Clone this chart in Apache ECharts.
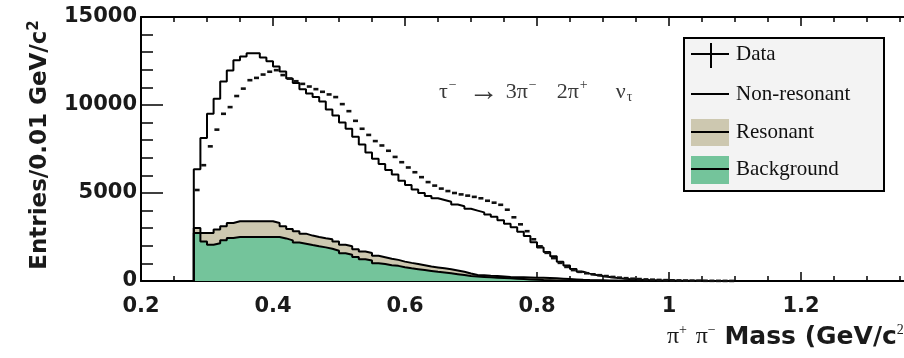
<!DOCTYPE html>
<html><head><meta charset="utf-8">
<script src="https://cdn.jsdelivr.net/npm/echarts@6/dist/echarts.min.js"></script>
<style>html,body{margin:0;padding:0;background:#fff}#c{width:904px;height:358px}</style>
</head><body><div id="c"></div>
<script>
// Bin lower edges (GeV/c^2), bin width 0.01
const binLow = [0.28,0.29,0.30,0.31,0.32,0.33,0.34,0.35,0.36,0.37,
  0.38,0.39,0.40,0.41,0.42,0.43,0.44,0.45,0.46,0.47,
  0.48,0.49,0.50,0.51,0.52,0.53,0.54,0.55,0.56,0.57,
  0.58,0.59,0.60,0.61,0.62,0.63,0.64,0.65,0.66,0.67,
  0.68,0.69,0.70,0.71,0.72,0.73,0.74,0.75,0.76,0.77,
  0.78,0.79,0.80,0.81,0.82,0.83,0.84,0.85,0.86,0.87,
  0.88,0.89,0.90,0.91,0.92,0.93,0.94,0.95,0.96,0.97,
  0.98,0.99,1.00,1.01,1.02,1.03,1.04,1.05,1.06,1.07,1.08,1.09];
const binWidth = 0.01;

// Data points (entries per bin)
const dataCounts = [5170,6580,7650,8600,9500,9880,10510,10930,11410,11540,
  11730,11890,11980,11700,11500,11350,11200,11050,10900,10750,
  10600,10450,10050,9650,9100,8650,8300,7950,7700,7400,
  7050,6750,6450,6180,5900,5620,5420,5250,5110,5000,
  4920,4850,4780,4700,4560,4450,4330,4050,3620,3220,
  2830,2370,1970,1600,1300,1030,800,620,520,440,
  380,330,280,230,190,160,130,110,90,75,
  60,50,40,32,26,20,16,12,10,8,6,5];

// Stacked histogram heights: total (non-resonant line), background+resonant, background
const nonResonantTotal = [6350,8130,9500,10360,11330,11960,12540,12760,12940,12940,
  12700,12480,12190,11900,11500,11250,10900,10650,10450,10200,
  9750,9400,9000,8650,8200,7750,7300,6950,6650,6300,
  6050,5700,5450,5200,5000,4830,4700,4600,4500,4350,
  4250,4100,4000,3900,3780,3650,3450,3250,3050,2800,
  2550,2200,1900,1650,1400,1100,880,680,530,420,
  340,280,230,180,140,110,90,70,55,45,
  35,28,22,18,14,11,9,7,5,4,3,2];
const resonantTop = [3010,2730,2730,2920,3110,3300,3400,3400,3400,3400,
  3400,3400,3300,3110,2960,2820,2690,2580,2500,2430,
  2370,2250,2060,1970,1810,1680,1590,1430,1350,1270,
  1200,1100,1030,970,900,820,770,720,670,600,
  530,430,340,320,300,290,260,230,220,210,
  200,190,180,170,150,130,110,90,70,55,
  45,38,30,25,20,16,12,10,8,6,
  5,4,3,3,2,2,1,1,1,1,1,1];
const background = [2730,2250,2060,2150,2310,2440,2500,2500,2500,2500,
  2500,2500,2500,2420,2310,2190,2120,2040,1970,1910,
  1830,1720,1580,1490,1360,1240,1160,1010,960,900,
  860,780,720,670,620,570,520,480,440,390,
  340,280,250,230,210,190,170,150,130,110,
  90,70,50,40,30,25,20,16,12,10,
  8,6,5,4,3,3,2,2,1,1,
  1,1,1,1,1,1,1,1,1,1,1,1];

const legendNames = ['Data','Non-resonant','Resonant','Background'];
const colTan = '#cdc8b0', colGreen = '#74c49b';

function stepPoints(vals){
  const pts = [[binLow[0], 0]];
  for (let i = 0; i < vals.length; i++) pts.push([binLow[i], vals[i]]);
  pts.push([binLow[vals.length-1] + binWidth, vals[vals.length-1]]);
  return pts;
}

const sansB = 'DejaVu Sans';
const serif = 'Liberation Serif';
const chart = echarts.init(document.getElementById('c'));
const axisX = (pos, showLabel) => ({
  type:'value', min:0.2, max:1.4, interval:0.2, position:pos,
  axisLine:{show:true, onZero:false, lineStyle:{color:'#000', width:2}},
  axisTick:{show:true, inside:true, length:9, lineStyle:{color:'#000', width:1.5}},
  minorTick:{show:true, splitNumber:4, length:5, lineStyle:{color:'#000', width:1.5}},
  splitLine:{show:false},
  axisLabel:{show:showLabel, fontFamily:sansB, fontWeight:'bold', fontSize:21, color:'#1a1a1a', margin:15,
             formatter:(v)=>String(+v.toFixed(2))}
});
const tc = '#3a3a3a';
chart.setOption({
  animation:false,
  backgroundColor:'#fff',
  grid:{left:141, top:17, width:792, height:264, containLabel:false, outerBoundsMode:'none'},
  title:{
    left:434, top:72,
    text:'{t|τ}{s|−}{a|→}{p|3π}{s|−}{q|2π}{s|+}{n|ν}{b|τ}',
    textStyle:{fontWeight:'normal', rich:{
      t:{fontFamily:serif, fontSize:22, fontWeight:'normal', color:tc},
      a:{fontFamily:serif, fontSize:30, fontWeight:'normal', color:tc, padding:[0,7,0,12]},
      p:{fontFamily:serif, fontSize:22, fontWeight:'normal', color:tc},
      q:{fontFamily:serif, fontSize:22, fontWeight:'normal', color:tc, padding:[0,0,0,20]},
      n:{fontFamily:serif, fontSize:22, fontWeight:'normal', color:tc, padding:[0,0,0,28]},
      s:{fontFamily:serif, fontSize:14, fontWeight:'normal', color:tc, padding:[0,0,13,1]},
      b:{fontFamily:serif, fontSize:14, fontWeight:'normal', color:tc, padding:[11,0,0,1]}
    }}
  },
  xAxis:[axisX('bottom', true), axisX('top', false)],
  yAxis:{
    type:'value', min:0, max:15000, interval:5000,
    axisLine:{show:true, lineStyle:{color:'#000', width:2}},
    axisTick:{show:true, inside:true, length:22, lineStyle:{color:'#000', width:1.5}},
    minorTick:{show:true, splitNumber:5, length:12, lineStyle:{color:'#000', width:1.5}},
    splitLine:{show:false},
    axisLabel:{fontFamily:sansB, fontWeight:'bold', fontSize:21, color:'#1a1a1a', margin:4,
               formatter:(v)=>String(v)}
  },
  series:[
    {name:'Resonant', type:'line', step:'end', showSymbol:false, z:2,
     data:stepPoints(resonantTop),
     lineStyle:{color:'#000', width:2}, areaStyle:{color:colTan, opacity:1}},
    {name:'Background', type:'line', step:'end', showSymbol:false, z:3,
     data:stepPoints(background),
     lineStyle:{color:'#000', width:2}, areaStyle:{color:colGreen, opacity:1}},
    {name:'Non-resonant', type:'line', step:'end', showSymbol:false, z:4,
     data:stepPoints(nonResonantTotal),
     lineStyle:{color:'#000', width:2}},
    {name:'Data', type:'custom', z:5,
     data:binLow.map((x,i)=>[x, dataCounts[i]]),
     renderItem:function(params, api){
       const x0 = api.value(0), v = api.value(1);
       const p1 = api.coord([x0, v]), p2 = api.coord([x0 + binWidth, v]);
       return {type:'line', shape:{x1:p1[0]+0.8, y1:p1[1], x2:p2[0]-0.8, y2:p2[1]},
               style:{stroke:'#111', lineWidth:2.6}};
     }}
  ],
  graphic:[
    {type:'text', x:40, y:145, rotation:Math.PI/2,
     style:{text:'Entries/0.01 GeV/c{s|2}', fontFamily:sansB, fontWeight:'bold', fontSize:23, fill:'#1a1a1a',
            align:'center', verticalAlign:'middle',
            rich:{s:{fontFamily:sansB, fontWeight:'bold', fontSize:15, fill:'#1a1a1a', padding:[0,0,11,0]}}}},
    {type:'text', x:667, y:337,
     style:{text:'{p|π}{s|+} {p|π}{s|−} Mass (GeV/c{s|2})', fontFamily:sansB, fontWeight:'bold', fontSize:25, fill:'#1a1a1a',
            align:'left', verticalAlign:'middle',
            rich:{p:{fontFamily:serif, fontSize:24, fill:'#1a1a1a'},
                  s:{fontFamily:serif, fontSize:14, fill:'#1a1a1a', padding:[0,0,13,0]}}}},
    {type:'group', left:683, top:37, children:[
      {type:'rect', shape:{x:0, y:0, width:200, height:153}, style:{fill:'#f3f3f3', stroke:'#000', lineWidth:2}},
      {type:'line', shape:{x1:7, y1:16, x2:45, y2:16}, style:{stroke:'#000', lineWidth:2}},
      {type:'line', shape:{x1:27, y1:5, x2:27, y2:30}, style:{stroke:'#000', lineWidth:2}},
      {type:'text', x:52, y:16, style:{text:legendNames[0], fontFamily:serif, fontSize:21, fill:'#111', verticalAlign:'middle'}},
      {type:'line', shape:{x1:7, y1:56, x2:45, y2:56}, style:{stroke:'#000', lineWidth:2}},
      {type:'text', x:52, y:56, style:{text:legendNames[1], fontFamily:serif, fontSize:21, fill:'#111', verticalAlign:'middle'}},
      {type:'rect', shape:{x:7, y:81, width:38, height:27}, style:{fill:colTan}},
      {type:'line', shape:{x1:7, y1:94, x2:45, y2:94}, style:{stroke:'#000', lineWidth:2}},
      {type:'text', x:52, y:94, style:{text:legendNames[2], fontFamily:serif, fontSize:21, fill:'#111', verticalAlign:'middle'}},
      {type:'rect', shape:{x:7, y:118, width:38, height:28}, style:{fill:colGreen}},
      {type:'line', shape:{x1:7, y1:131, x2:45, y2:131}, style:{stroke:'#000', lineWidth:2}},
      {type:'text', x:52, y:131, style:{text:legendNames[3], fontFamily:serif, fontSize:21, fill:'#111', verticalAlign:'middle'}}
    ]}
  ]
});
</script></body></html>
